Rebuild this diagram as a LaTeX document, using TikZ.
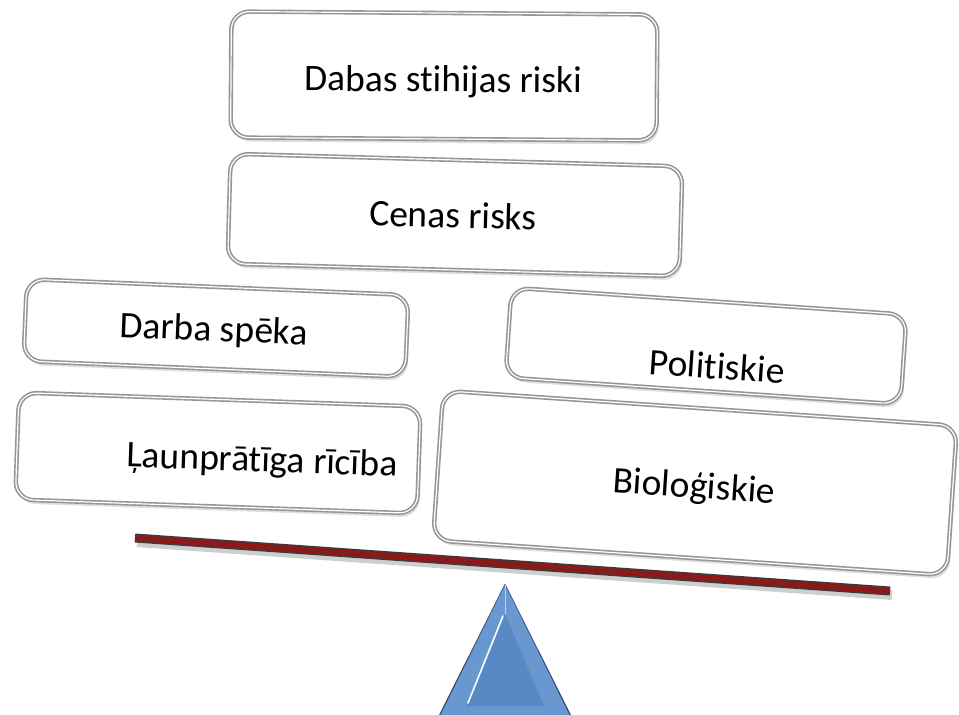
\documentclass[tikz,border=0pt]{standalone}
\usepackage{fontspec}
\setmainfont{Carlito}[Ligatures=NoCommon]
\usetikzlibrary{shadows,calc}
\definecolor{boxedge}{RGB}{150,150,150}
\definecolor{beamred}{RGB}{140,24,26}
\definecolor{beamedge}{RGB}{60,60,64}
\definecolor{triblue}{RGB}{88,137,196}
\definecolor{triband}{RGB}{105,152,208}
\definecolor{triedge}{RGB}{45,70,110}
\tikzset{
  riskbox/.style={draw=boxedge, line width=1.6pt, double=white, double distance=1.2pt,
    fill=white, rounded corners=18pt, inner sep=0pt,
    drop shadow={opacity=0.25, shadow xshift=2pt, shadow yshift=-4pt}},
  lbl/.style={font=\fontsize{37.5}{41}\selectfont, inner sep=0pt, text=black}
}
\begin{document}
\begin{tikzpicture}[x=1pt,y=-1pt]
\useasboundingbox (0,0) rectangle (959,715);
% boxes
\node[riskbox, minimum width=426pt, minimum height=126pt, rotate=-0.4] (b1) at (444,76) {};
\node[lbl, rotate=-0.4] (t1) at (443,82) {Dabas stihijas riski};
\node[riskbox, minimum width=452pt, minimum height=110pt, rotate=-1.6] (b2) at (455,215) {};
\node[lbl, rotate=-1.6] (t2) at (453,215) {Cenas risks};
\node[riskbox, minimum width=382pt, minimum height=82pt, rotate=-2.4] (b3) at (216,328) {};
\node[lbl, rotate=-2.4] (t3) at (214,331) {Darba spēka};
\node[riskbox, minimum width=402pt, minimum height=107pt, rotate=-2] (b4) at (218,453) {};
\node[lbl, rotate=-2] (t4) at (262,462) {Ļaunprātīga rīcība};
\node[riskbox, minimum width=396pt, minimum height=90pt, rotate=-3.9] (b5) at (706,346) {};
\node[lbl, rotate=-3.9] (t5) at (717,366) {Politiskie};
\node[riskbox, minimum width=515pt, minimum height=150pt, rotate=-3.9] (b6) at (695,483) {};
\node[lbl, rotate=-3.9] (t6) at (694,488) {Bioloģiskie};
% beam
\coordinate (beamL) at (135,538);
\coordinate (beamR) at (890,591);
\draw[line width=10pt, beamedge, opacity=0.25] ($(beamL)+(2,4)$) -- ($(beamR)+(2,4)$);
\draw[line width=9pt, beamedge] (beamL) -- (beamR);
\draw[line width=6pt, beamred] (beamL) -- (beamR);
% fulcrum
\coordinate (apex) at (505,585);
\coordinate (baseL) at (438,720);
\coordinate (baseR) at (572,720);
\fill[triedge] ($(apex)+(0,-1.5)$) -- ($(baseL)+(-1.5,0)$) -- ($(baseR)+(1.5,0)$) -- cycle;
\fill[triband] (apex) -- (baseL) -- (baseR) -- cycle;
\fill[triblue] (505,614) -- (466,706) -- (544,706) -- cycle;
\draw[white, line width=1.6pt, line cap=round] (503,616) -- (468,703);
\draw[white!60!triblue, line width=0.8pt] (apex) -- (505,614);
\end{tikzpicture}
\end{document}
